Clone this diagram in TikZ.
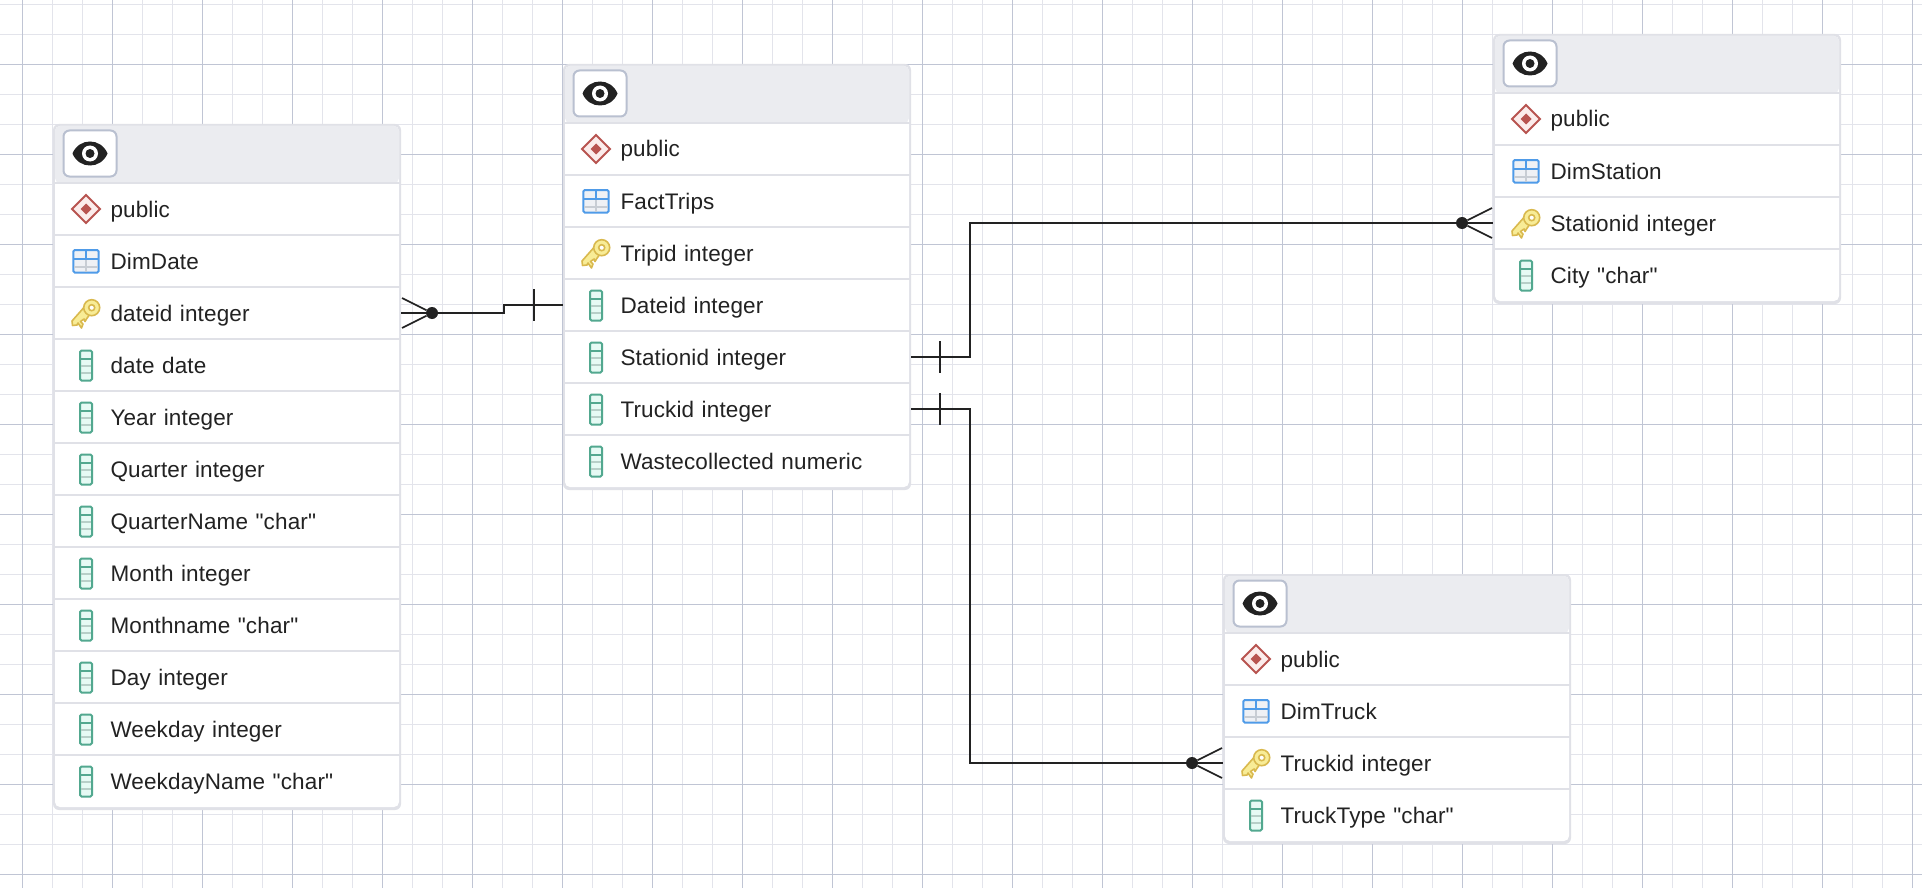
\documentclass[tikz,border=0pt]{standalone}
\usepackage{fontspec}
\setmainfont{Liberation Sans}[Ligatures=TeXOff,LetterSpace=0.6]
\usetikzlibrary{calc, positioning}

\definecolor{gridminor}{HTML}{E3E4EB}
\definecolor{gridmajor}{HTML}{C0C5D4}
\definecolor{cardedge}{HTML}{E0E1E7}
\definecolor{headfill}{HTML}{EBECF0}
\definecolor{btnedge}{HTML}{B9C0D0}
\definecolor{inkdark}{HTML}{222222}
\definecolor{schemared}{HTML}{B85450}
\definecolor{schemafill}{HTML}{FBECEB}
\definecolor{tableblue}{HTML}{4F9BE8}
\definecolor{tablefill}{HTML}{EFF1F5}
\definecolor{tablegray}{HTML}{C8CDD4}
\definecolor{keygold}{HTML}{D9B94E}
\definecolor{keyfill}{HTML}{F8EC96}
\definecolor{colgreen}{HTML}{52A88F}
\definecolor{colfill}{HTML}{E6FAF4}
\definecolor{colgray}{HTML}{B7CFC8}

\tikzset{
	rowbox/.style={anchor=north west,inner sep=0pt,outer sep=0pt,text width=348pt,align=left,
		minimum height=52pt,text height=20pt,text depth=4pt,font=\fontsize{22.5}{26}\selectfont,text=inkdark},
	eyebox/.style={draw=btnedge,line width=2pt,fill=white,rounded corners=6pt,inner sep=0pt,
		minimum width=53pt,minimum height=46pt},
	erline/.style={draw=inkdark,line width=2pt},
	erprong/.style={draw=inkdark,line width=1.6pt},
	erdot/.style={circle,fill=inkdark,inner sep=0pt,minimum size=12pt},
	pics/eyeicon/.style={code={
		\fill[inkdark] (-17.5,0) .. controls (-11,-16) and (11,-16) .. (17.5,0) .. controls (11,16) and (-11,16) .. cycle;
		\fill[white] (0,0) circle (8);
		\fill[inkdark] (0,0) circle (4.5);
	}},
	pics/schemaicon/.style={code={
		\draw[schemared,fill=schemafill,line width=1.8pt] (-14,0) -- (0,-14) -- (14,0) -- (0,14) -- cycle;
		\fill[schemared] (-5.5,0) -- (0,-5.5) -- (5.5,0) -- (0,5.5) -- cycle;
	}},
	pics/tableicon/.style={code={
		\draw[tableblue,fill=tablefill,line width=2pt,rounded corners=1.5pt] (-12.7,-11) rectangle (12.7,11.5);
		\draw[tablegray,line width=2pt] (0,-1.7) -- (0,10.5) (-11.7,5.5) -- (11.7,5.5);
		\draw[tableblue,line width=2pt] (-12.7,-1.7) -- (12.7,-1.7) (0,-11) -- (0,-1.7);
	}},
	pics/keyicon/.style={code={
		\draw[keygold,fill=keyfill,line width=1.6pt,line join=round] (1,-9) -- (-14,8) -- (-13.5,12.5) -- (-9,12) -- (-8,10) -- (-4.5,15) -- (-3,11) -- (-5.5,8.5) -- (-2,6) -- (-1,8.5) -- (0.5,6) -- (4,1) -- cycle;
		\draw[keygold,fill=keyfill,line width=1.6pt] (5.7,-5.3) circle (8);
		\draw[keygold,fill=white,line width=1.6pt] (5.7,-5.3) circle (3);
	}},
	pics/colicon/.style={code={
		\draw[colgreen,fill=colfill,line width=2pt,rounded corners=1.5pt] (-6,-14.5) rectangle (6,15.5);
		\draw[colgreen,line width=1.6pt] (-6,-6) -- (6,-6);
		\draw[colgray,line width=2pt] (-5,0.5) -- (5,0.5) (-5,8) -- (5,8);
	}},
}

% name, left, top, number of rows, rows
\newcommand{\ertable}[5]{
	\fill[cardedge,rounded corners=6pt] ({#2},#3) rectangle ({#2+348},{#3+59+52*#4+3});
	\fill[white,rounded corners=5pt] ({#2+2},#3+2) rectangle ({#2+346},{#3+59+52*#4});
	\fill[headfill,rounded corners=5pt] ({#2+2},{#3+59}) -- ({#2+2},#3+2) -- ({#2+346},#3+2) -- ({#2+346},{#3+59}) -- cycle;
	\node[eyebox] (#1eye) at ({#2+37},{#3+29.5}) {};
	\pic at (#1eye) {eyeicon};
	\foreach \kind/\txt [count=\i] in {#5}{
		\node[rowbox] (#1\i) at (#2,{#3+59+52*(\i-1)}) {\hspace*{57.5pt}\txt};
		\draw[cardedge,line width=2pt] (#1\i.north west) -- (#1\i.north east);
		\pic at ($(#1\i.west)+(33,0)$) {\kind};
	}
}

\begin{document}
\begin{tikzpicture}[x=1pt,y=-1pt]
	\useasboundingbox (0,0) rectangle (1922,888);
	\fill[white] (0,0) rectangle (1922,888);
	% grid
	\foreach \gx in {-8,22,...,1922}
		\draw[gridminor,line width=1pt] (\gx+.5,0) -- (\gx+.5,888);
	\foreach \gy in {4,34,...,888}
		\draw[gridminor,line width=1pt] (0,\gy+.5) -- (1922,\gy+.5);
	\foreach \gx in {22,112,...,1922}
		\draw[gridmajor,line width=1pt] (\gx+.5,0) -- (\gx+.5,888);
	\foreach \gy in {64,154,...,888}
		\draw[gridmajor,line width=1pt] (0,\gy+.5) -- (1922,\gy+.5);

	% tables
	\ertable{dimdate}{53}{124}{12}{schemaicon/public,tableicon/DimDate,keyicon/dateid integer,colicon/date date,colicon/Year integer,colicon/Quarter integer,colicon/QuarterName "char",colicon/Month integer,colicon/Monthname "char",colicon/Day integer,colicon/Weekday integer,colicon/WeekdayName "char"}
	\ertable{facttrips}{563}{64}{7}{schemaicon/public,tableicon/FactTrips,keyicon/Tripid integer,colicon/Dateid integer,colicon/Stationid integer,colicon/Truckid integer,colicon/Wastecollected numeric}
	\ertable{dimstation}{1493}{34}{4}{schemaicon/public,tableicon/DimStation,keyicon/Stationid integer,colicon/City "char"}
	\ertable{dimtruck}{1223}{574}{4}{schemaicon/public,tableicon/DimTruck,keyicon/Truckid integer,colicon/TruckType "char"}

	% connectors
	\node[erdot] (dotdate) at (432,313) {};
	\node[erdot] (dotstation) at (1462,223) {};
	\node[erdot] (dottruck) at (1192,763) {};
	\coordinate (barfromdate) at (534,305);
	\coordinate (barstation) at (940,357);
	\coordinate (bartruck) at (940,409);

	\draw[erline] (dotdate) -- (504,313) -- (504,305) -- (facttrips4.west);
	\draw[erline] (facttrips5.east) -- (970,357) -- (970,223) -- (dotstation);
	\draw[erline] (facttrips6.east) -- (970,409) -- (970,763) -- (dottruck);

	\foreach \barname in {barfromdate,barstation,bartruck}
		\draw[erline] ($(\barname)+(0,-16)$) -- ($(\barname)+(0,16)$);

	\draw[erprong] (dotdate) -- (dimdate3.east);
	\draw[erprong] (dotdate) -- ($(dimdate3.east)+(1,-15)$);
	\draw[erprong] (dotdate) -- ($(dimdate3.east)+(1,15)$);
	\draw[erprong] (dotstation) -- (dimstation3.west);
	\draw[erprong] (dotstation) -- ($(dimstation3.west)+(-1,-15)$);
	\draw[erprong] (dotstation) -- ($(dimstation3.west)+(-1,15)$);
	\draw[erprong] (dottruck) -- (dimtruck3.west);
	\draw[erprong] (dottruck) -- ($(dimtruck3.west)+(-1,-15)$);
	\draw[erprong] (dottruck) -- ($(dimtruck3.west)+(-1,15)$);
\end{tikzpicture}
\end{document}
